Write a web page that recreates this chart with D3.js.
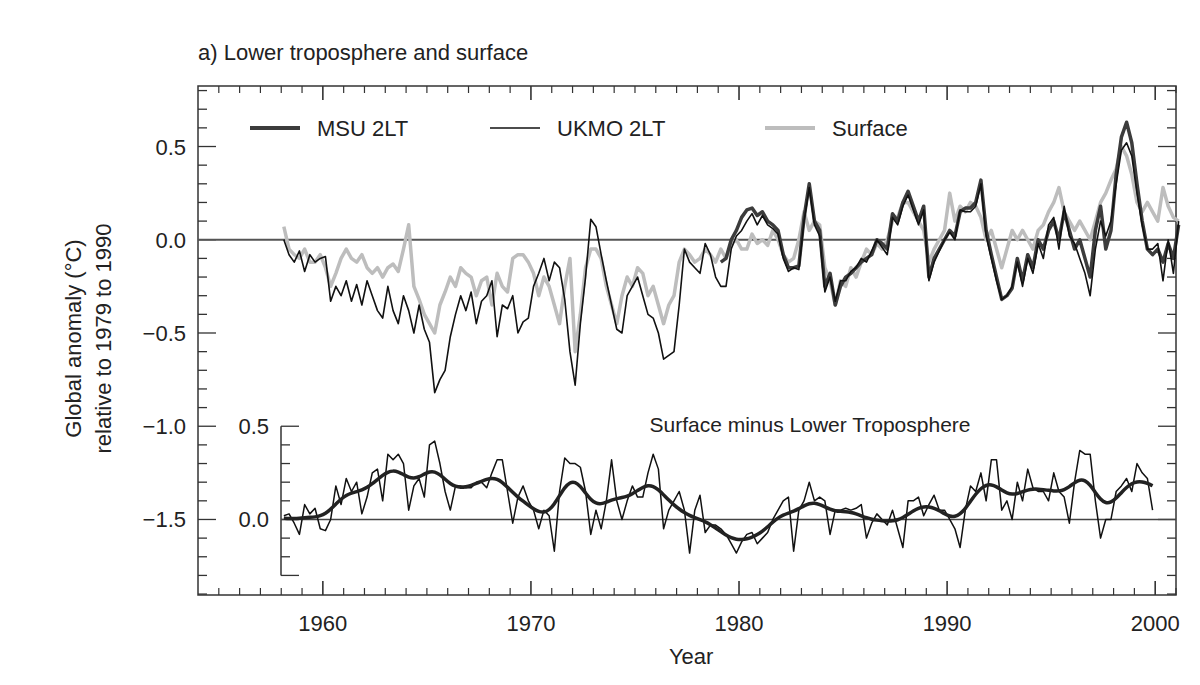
<!DOCTYPE html>
<html>
<head>
<meta charset="utf-8">
<script src="https://cdn.jsdelivr.net/npm/d3@7"></script>
<style>
  body { margin: 0; background: #fff; }
  text { font-family: "Liberation Sans", Arial, sans-serif; fill: #222; }
  .tick-label { font-size: 22px; }
</style>
</head>
<body>
<script>
// quarterly values, start year of each series
const ukmoStart = 1958;
const ukmo = [
  0.0, -0.08, -0.12, -0.06,   -0.17, -0.08, -0.12, -0.10,
  -0.09, -0.33, -0.25, -0.30, -0.22, -0.33, -0.24, -0.35,
  -0.22, -0.30, -0.38, -0.42, -0.25, -0.38, -0.45, -0.30,
  -0.38, -0.50, -0.35, -0.48, -0.55, -0.82, -0.75, -0.70,
  -0.52, -0.40, -0.30, -0.38, -0.28, -0.45, -0.33, -0.30,
  -0.22, -0.52, -0.35, -0.37, -0.30, -0.50, -0.44, -0.42,
  -0.25, -0.18, -0.10, -0.22, -0.12, -0.15, -0.32, -0.60,
  -0.78, -0.45, -0.20, 0.11,  0.07, -0.08, -0.22, -0.35,
  -0.48, -0.50, -0.30, -0.25, -0.20, -0.30, -0.40, -0.42,
  -0.50, -0.64, -0.62, -0.60, -0.35, -0.05, -0.12, -0.15,
  -0.18, -0.02, -0.08, -0.20, -0.25, -0.25, -0.05, 0.02,
  0.05, 0.10, 0.14, 0.08,     0.13, 0.08, 0.06, 0.03,
  -0.10, -0.17, -0.15, -0.16, 0.10, 0.28, 0.08, 0.02,
  -0.28, -0.20, -0.33, -0.22, -0.22, -0.17, -0.15, -0.10,
  -0.12, -0.06, 0.00, -0.04,  -0.08, 0.12, 0.08, 0.18,
  0.24, 0.16, 0.08, 0.16,     -0.22, -0.12, -0.06, 0.0,
  0.04, 0.00, 0.16, 0.15,     0.15, 0.18, 0.30, 0.02,
  -0.10, -0.22, -0.32, -0.30, -0.25, -0.12, -0.25, -0.10,
  -0.18, -0.02, -0.10, 0.08,  0.12, -0.05, 0.18, 0.02,
  -0.02, -0.10, -0.18, -0.30, -0.05, 0.10, 0.02, 0.10,
  0.30, 0.48, 0.52, 0.45,     0.25, 0.08, -0.05, -0.05,
  -0.02, -0.22, 0.0, -0.18,   0.10
];

const msuStart = 1979;
const msu = [
  -0.12, -0.10, 0.00, 0.05,   0.12, 0.16, 0.17, 0.13,
  0.15, 0.10, 0.08, 0.05,     -0.08, -0.15, -0.15, -0.14,
  0.12, 0.30, 0.10, 0.05,     -0.25, -0.18, -0.35, -0.25,
  -0.20, -0.18, -0.15, -0.12, -0.10, -0.08, 0.00, -0.02,
  -0.05, 0.14, 0.10, 0.20,    0.26, 0.18, 0.10, 0.18,
  -0.20, -0.10, -0.05, 0.00,  0.05, 0.02, 0.15, 0.17,
  0.17, 0.20, 0.32, 0.05,     -0.08, -0.20, -0.32, -0.30,
  -0.26, -0.10, -0.22, -0.08, -0.15, 0.00, -0.05, 0.05,
  0.10, 0.00, 0.15, 0.05,     -0.05, 0.00, -0.10, -0.20,
  0.05, 0.18, -0.05, 0.05,    0.35, 0.55, 0.63, 0.52,
  0.30, 0.10, -0.05, -0.08,   -0.05, -0.12, -0.02, -0.10,
  0.08
];

const surfaceStart = 1958;
const surface = [
  0.07, -0.05, -0.08, -0.10,  -0.05, -0.12, -0.12, -0.08,
  -0.15, -0.25, -0.18, -0.10, -0.05, -0.10, -0.12, -0.08,
  -0.15, -0.18, -0.15, -0.20, -0.15, -0.13, -0.17, -0.05,
  0.08, -0.25, -0.32, -0.40,  -0.45, -0.50, -0.35, -0.28,
  -0.20, -0.25, -0.15, -0.18, -0.20, -0.30, -0.22, -0.20,
  -0.35, -0.18, -0.25, -0.28, -0.10, -0.08, -0.08, -0.12,
  -0.18, -0.30, -0.20, -0.25, -0.35, -0.45, -0.25, -0.10,
  -0.60, -0.40, -0.15, -0.05, -0.05, -0.10, -0.25, -0.35,
  -0.45, -0.30, -0.20, -0.25, -0.15, -0.18, -0.30, -0.25,
  -0.35, -0.45, -0.35, -0.30, -0.12, -0.05, -0.08, -0.12,
  -0.10, -0.05, -0.08, -0.12, -0.05, -0.10, -0.02, 0.00,
  -0.05, -0.05, 0.03, -0.02,  0.00, -0.03, 0.05, 0.00,
  -0.08, -0.12, -0.10, 0.00,  0.15, 0.05, 0.10, 0.08,
  -0.15, -0.22, -0.35, -0.22, -0.25, -0.15, -0.20, -0.12,
  -0.05, -0.08, -0.02, -0.05, 0.00, 0.10, 0.12, 0.20,
  0.20, 0.15, 0.10, 0.05,     -0.12, -0.05, 0.00, 0.05,
  0.25, 0.10, 0.18, 0.15,     0.20, 0.18, 0.12, 0.00,
  0.05, -0.05, -0.15, -0.05,  0.05, 0.00, 0.05, 0.00,
  -0.05, 0.05, 0.08, 0.15,    0.20, 0.28, 0.15, 0.10,
  0.05, 0.10, 0.05, 0.00,     0.10, 0.20, 0.25, 0.32,
  0.38, 0.50, 0.45, 0.35,     0.20, 0.15, 0.20, 0.15,
  0.10, 0.28, 0.18, 0.12,     0.10
];

// surface minus lower troposphere, quarterly from 1958
const diffStart = 1958;
const diff = [
  0.02, 0.03, -0.02, -0.08, 0.08, 0.03, 0.06, -0.05, -0.06, 0.00,
  0.18, 0.08, 0.22, 0.15, 0.20, 0.03, 0.12, 0.25, 0.27, 0.10,
  0.35, 0.32, 0.35, 0.30, 0.05, 0.18, 0.22, 0.12, 0.40, 0.42,
  0.30, 0.15, 0.05, 0.18, 0.18, 0.17, 0.17, 0.20, 0.20, 0.17,
  0.25, 0.32, 0.32, 0.15, -0.02, 0.12, 0.18, 0.10, 0.05, -0.05,
  0.05, 0.02, -0.17, 0.15, 0.33, 0.30, 0.30, 0.28,
  0.15, -0.08, 0.05, -0.05, 0.10, 0.32, 0.10, 0.00, 0.10, 0.18,
  0.12, 0.12, 0.25, 0.35, 0.27, -0.05, 0.05, 0.10, 0.15, 0.05,
  -0.18, 0.05, 0.13, -0.07, -0.03, -0.03, -0.05, -0.08, -0.13, -0.18,
  -0.12, -0.08, -0.07, -0.13, -0.10, -0.07, 0.00, 0.05, 0.10, 0.12,
  -0.17, 0.05, 0.10, 0.20, 0.10, 0.12, 0.10, -0.08, 0.05, 0.05,
  0.06, 0.05, 0.06, 0.08, -0.10,
  -0.02, 0.03, 0.00, -0.03, 0.05, -0.05, -0.15, 0.10, 0.10, 0.12,
  0.02, 0.08, 0.13, 0.05, 0.05, 0.00, -0.05, -0.15, 0.05, 0.18,
  0.15, 0.25, 0.10, 0.32, 0.32, 0.05, 0.10, 0.00, 0.20, 0.10,
  0.27, 0.17, 0.15, 0.15, 0.10, 0.25, 0.15, 0.12, -0.02, 0.20,
  0.37, 0.35, 0.35, 0.10, -0.10, 0.00, 0.00, 0.15, 0.18, 0.22,
  0.15, 0.30, 0.25, 0.22, 0.05
];

const xTickYears = [1960, 1970, 1980, 1990, 2000];
const yTickValues = [0.5, 0.0, -0.5, -1.0, -1.5];
const insetTickValues = [0.5, 0.0];
const insetOffset = -1.5;

function toPoints(values, start) {
  return values.map((v, i) => ({ t: start + i * 0.25 + 0.125, v: v }));
}

const ukmoPts = toPoints(ukmo, ukmoStart);
const msuPts = toPoints(msu, msuStart);
const surfPts = toPoints(surface, surfaceStart);
const diffPts = toPoints(diff, diffStart);

// gaussian low-pass of the difference series
const smoothPts = diffPts.map((p, i) => {
  let s = 0, w = 0;
  for (let k = -8; k <= 8; k++) {
    const q = diffPts[i + k];
    if (!q) continue;
    const wk = Math.exp(-(k * k) / (2 * 2.3 * 2.3));
    s += q.v * wk; w += wk;
  }
  return { t: p.t, v: s / w };
});

const W = 1200, H = 685;
const pL = 198, pR = 1176, pT = 86, pB = 595;

const svg = d3.select('body').append('svg')
  .attr('width', W).attr('height', H);

const x = d3.scaleLinear().domain([1954, 2001]).range([pL, pR]);
const y = d3.scaleLinear().domain([-1.905, 0.8245]).range([pB, pT]);

const line = d3.line().x(d => x(d.t)).y(d => y(d.v));
const insetLine = d3.line().x(d => x(d.t)).y(d => y(d.v + insetOffset));
const smoothLine = d3.line().curve(d3.curveBasis).x(d => x(d.t)).y(d => y(d.v + insetOffset));

// frame
svg.append('rect')
  .attr('x', pL).attr('y', pT)
  .attr('width', pR - pL).attr('height', pB - pT)
  .attr('fill', 'none').attr('stroke', '#333').attr('stroke-width', 1.5);

// ticks
d3.range(1955, 2002).forEach(yr => {
  const major = yr % 10 === 0;
  const len = major ? 14 : 7;
  [[pB, -len], [pT, len]].forEach(([y0, d]) => {
    svg.append('line')
      .attr('x1', x(yr)).attr('x2', x(yr))
      .attr('y1', y0).attr('y2', y0 + d)
      .attr('stroke', '#333').attr('stroke-width', major ? 1.6 : 1.2);
  });
});
d3.range(-19, 9).forEach(k => {
  const v = k / 10;
  const major = k % 5 === 0;
  const len = major ? 18 : 9;
  [[pL, len], [pR, -len]].forEach(([x0, d]) => {
    svg.append('line')
      .attr('x1', x0).attr('x2', x0 + d)
      .attr('y1', y(v)).attr('y2', y(v))
      .attr('stroke', '#333').attr('stroke-width', 1.3);
  });
});

svg.selectAll('.xl').data(xTickYears).enter().append('text')
  .attr('class', 'tick-label')
  .attr('x', d => x(d)).attr('y', pB + 36)
  .attr('text-anchor', 'middle').text(d => d);

svg.selectAll('.yl').data(yTickValues).enter().append('text')
  .attr('class', 'tick-label')
  .attr('x', pL - 12).attr('y', d => y(d) + 8)
  .attr('text-anchor', 'end').text(d => d3.format('.1f')(d).replace('-', '\u2212'));

// zero line
svg.append('line')
  .attr('x1', pL).attr('x2', pR)
  .attr('y1', y(0)).attr('y2', y(0))
  .attr('stroke', '#555').attr('stroke-width', 2);

// main series
svg.append('path').datum(surfPts).attr('d', line)
  .attr('fill', 'none').attr('stroke', '#bdbdbd').attr('stroke-width', 3.5)
  .attr('stroke-linejoin', 'round');
svg.append('path').datum(msuPts).attr('d', line)
  .attr('fill', 'none').attr('stroke', '#3c3c3c').attr('stroke-width', 3.5)
  .attr('stroke-linejoin', 'round');
svg.append('path').datum(ukmoPts).attr('d', line)
  .attr('fill', 'none').attr('stroke', '#111').attr('stroke-width', 1.6)
  .attr('stroke-linejoin', 'round');

// inset axis
const ix = 281;
svg.append('line')
  .attr('x1', ix).attr('x2', ix)
  .attr('y1', y(0.5 + insetOffset)).attr('y2', y(-0.3 + insetOffset))
  .attr('stroke', '#333').attr('stroke-width', 1.5);
d3.range(-3, 6).forEach(k => {
  const major = k === 0 || k === 5 || k === -3;
  svg.append('line')
    .attr('x1', ix).attr('x2', ix + (major ? 18 : 9))
    .attr('y1', y(k / 10 + insetOffset)).attr('y2', y(k / 10 + insetOffset))
    .attr('stroke', '#333').attr('stroke-width', 1.3);
});
svg.selectAll('.il').data(insetTickValues).enter().append('text')
  .attr('class', 'tick-label')
  .attr('x', ix - 12).attr('y', d => y(d + insetOffset) + 8)
  .attr('text-anchor', 'end').text(d => d3.format('.1f')(d));

svg.append('line')
  .attr('x1', ix).attr('x2', pR)
  .attr('y1', y(insetOffset)).attr('y2', y(insetOffset))
  .attr('stroke', '#444').attr('stroke-width', 1.5);

svg.append('path').datum(diffPts).attr('d', insetLine)
  .attr('fill', 'none').attr('stroke', '#111').attr('stroke-width', 1.5)
  .attr('stroke-linejoin', 'round');
svg.append('path').datum(smoothPts).attr('d', smoothLine)
  .attr('fill', 'none').attr('stroke', '#222').attr('stroke-width', 3.5)
  .attr('stroke-linejoin', 'round');

svg.append('text')
  .attr('x', 810).attr('y', 432).attr('text-anchor', 'middle')
  .style('font-size', '21px').text('Surface minus Lower Troposphere');

// legend
const legend = [
  { name: 'MSU 2LT', x: 250, color: '#3c3c3c', w: 4 },
  { name: 'UKMO 2LT', x: 490, color: '#111', w: 1.6 },
  { name: 'Surface', x: 765, color: '#bdbdbd', w: 4 }
];
legend.forEach(l => {
  svg.append('line')
    .attr('x1', l.x).attr('x2', l.x + 50).attr('y1', 128).attr('y2', 128)
    .attr('stroke', l.color).attr('stroke-width', l.w);
  svg.append('text')
    .attr('x', l.x + 67).attr('y', 136)
    .style('font-size', '22px').text(l.name);
});

// titles
svg.append('text')
  .attr('x', 198).attr('y', 60)
  .style('font-size', '22px').text('a) Lower troposphere and surface');
svg.append('text')
  .attr('x', x(1977.7)).attr('y', 664).attr('text-anchor', 'middle')
  .attr('class', 'tick-label').text('Year');

const yl = svg.append('text')
  .attr('transform', 'translate(81,' + ((pT + pB) / 2 - 2) + ') rotate(-90)')
  .attr('text-anchor', 'middle').style('font-size', '22px');
yl.append('tspan').attr('x', 0).attr('dy', 0).text('Global anomaly (\u00B0C)');
yl.append('tspan').attr('x', 0).attr('dy', 30).text('relative to 1979 to 1990');
</script>
</body>
</html>
